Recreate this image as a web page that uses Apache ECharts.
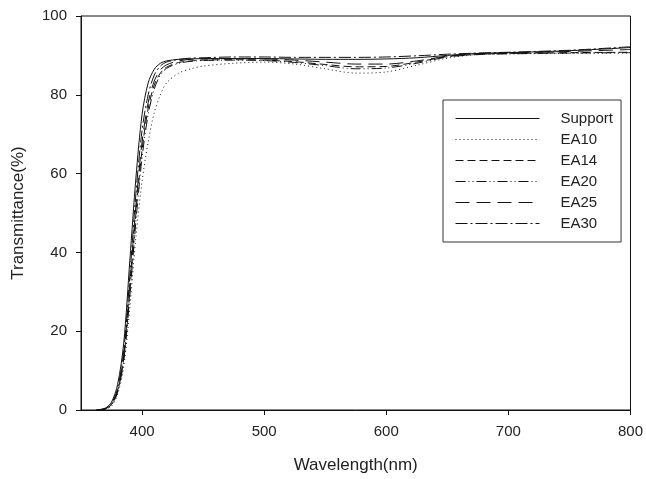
<!DOCTYPE html>
<html>
<head>
<meta charset="utf-8">
<script src="https://cdn.jsdelivr.net/npm/echarts@6/dist/echarts.min.js"></script>
<style>html,body{margin:0;padding:0;background:#fff}#c{width:646px;height:479px}</style>
</head>
<body>
<div id="c"></div>
<script>
var wavelengths = [363, 370, 375, 380, 385, 390, 395, 400, 405, 410, 415, 420, 430, 440, 450, 475, 500, 525, 550, 575, 600, 625, 650, 675, 700, 750, 800];
var support = [0, 0.5, 2, 6.5, 17, 38, 59, 75, 83, 86.5, 88, 88.6, 89, 89.1, 89.2, 89.2, 89.2, 89.1, 89.0, 89.0, 89.1, 89.4, 90.0, 90.5, 90.7, 91.2, 92.0];
var ea10 = [0, 0.2, 1, 4, 11, 26, 44, 58, 68, 75.5, 80, 83, 85.5, 86.6, 87.3, 88.0, 88.3, 87.8, 86.6, 85.5, 85.8, 87.5, 89.3, 90.2, 90.4, 90.5, 90.6];
var ea14 = [0, 0.3, 1.4, 4.8, 13, 30, 50, 66, 76.5, 82.5, 85.5, 87, 88.2, 88.6, 88.8, 88.9, 88.8, 88.4, 87.7, 87.1, 87.2, 88.3, 89.7, 90.3, 90.5, 90.7, 90.8];
var ea20 = [0, 0.3, 1.3, 4.5, 12.5, 29, 48, 64, 75, 81.5, 85, 86.7, 88.0, 88.5, 88.7, 88.8, 88.7, 88.2, 87.4, 86.6, 86.8, 88.0, 89.6, 90.2, 90.4, 90.6, 90.7];
var ea25 = [0, 0.3, 1.5, 5, 14, 32, 52, 68, 78, 83.5, 86.3, 87.6, 88.6, 89.0, 89.1, 89.2, 89.1, 88.8, 88.3, 87.8, 87.8, 88.6, 89.8, 90.4, 90.6, 91.0, 91.5];
var ea30 = [0, 0.4, 1.7, 5.5, 15, 34, 55, 71, 80, 85, 87.3, 88.3, 89.0, 89.3, 89.4, 89.6, 89.6, 89.5, 89.5, 89.5, 89.6, 89.9, 90.3, 90.6, 90.8, 91.3, 92.2];
var xTicks = [400, 500, 600, 700, 800];
var seriesNames = ['Support', 'EA10', 'EA14', 'EA20', 'EA25', 'EA30'];
var seriesValues = [support, ea10, ea14, ea20, ea25, ea30];
var dashes = ['solid', [1, 3], [8, 4], [10, 3, 1, 3, 1, 3], [14, 7], [12, 3, 2, 3]];

var font = '"Liberation Sans", Arial, sans-serif';
var chart = echarts.init(document.getElementById('c'), null, {renderer: 'canvas'});
var series = seriesNames.map(function (name, i) {
  return {
    name: name,
    type: 'line',
    showSymbol: false,
    symbol: 'none',
    smooth: 0.3,
    data: wavelengths.map(function (w, j) { return [w, seriesValues[i][j]]; }),
    lineStyle: {color: '#111', width: 1, type: dashes[i]},
    itemStyle: {color: '#111'}
  };
});
chart.setOption({
  animation: false,
  backgroundColor: '#fff',
  grid: {left: 81, right: 12, top: 16, bottom: 64, show: true, borderColor: '#111', borderWidth: 1, containLabel: false},
  xAxis: {
    type: 'value', min: 350, max: 800,
    name: 'Wavelength(nm)', nameLocation: 'middle', nameGap: 47,
    nameTextStyle: {fontFamily: font, fontSize: 17, color: '#222'},
    axisLine: {show: true, lineStyle: {color: '#111', width: 1}},
    axisTick: {show: true, inside: false, length: 5, customValues: xTicks, lineStyle: {color: '#111'}},
    axisLabel: {customValues: xTicks, margin: 14, fontFamily: font, fontSize: 15, color: '#222'},
    splitLine: {show: false}
  },
  yAxis: {
    type: 'value', min: 0, max: 100, interval: 20,
    name: 'Transmittance(%)', nameLocation: 'middle', nameGap: 54,
    nameTextStyle: {fontFamily: font, fontSize: 17, color: '#222'},
    axisLine: {show: true, lineStyle: {color: '#111', width: 1}},
    axisTick: {show: true, inside: false, length: 5, lineStyle: {color: '#111'}},
    axisLabel: {margin: 14, fontFamily: font, fontSize: 15, color: '#222'},
    splitLine: {show: false}
  },
  legend: {
    orient: 'vertical', left: 443, top: 100,
    data: seriesNames,
    borderColor: '#333', borderWidth: 1,
    padding: [11, 8, 11, 12],
    itemWidth: 84, itemHeight: 14, itemGap: 6,
    selectedMode: false,
    itemStyle: {color: 'transparent', borderColor: 'transparent', borderWidth: 0, opacity: 0},
    lineStyle: {width: 1},
    textStyle: {fontFamily: font, fontSize: 15, color: '#222', padding: [0, 0, 0, 16]}
  },
  series: series
});
</script>
</body>
</html>
